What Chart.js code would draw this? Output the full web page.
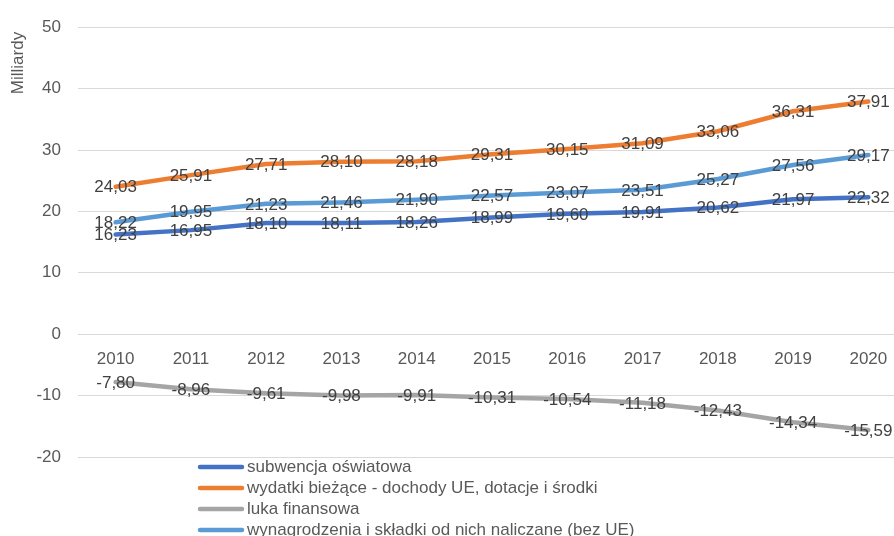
<!DOCTYPE html>
<html>
<head>
<meta charset="utf-8">
<script src="https://cdn.jsdelivr.net/npm/chart.js@4/dist/chart.umd.min.js"></script>
<style>
  html, body { margin: 0; padding: 0; background: #ffffff; overflow: hidden; }
  #wrap { width: 906px; height: 536px; }
</style>
</head>
<body>
<div id="wrap"><canvas id="chart" width="906" height="536"></canvas></div>
<script>
// Lata (oś kategorii)
const years = ['2010', '2011', '2012', '2013', '2014', '2015', '2016', '2017', '2018', '2019', '2020'];

// Serie w mld zł
const subwencja = [16.23, 16.95, 18.10, 18.11, 18.26, 18.99, 19.60, 19.91, 20.62, 21.97, 22.32];
const wydatki = [24.03, 25.91, 27.71, 28.10, 28.18, 29.31, 30.15, 31.09, 33.06, 36.31, 37.91];
const luka = [-7.80, -8.96, -9.61, -9.98, -9.91, -10.31, -10.54, -11.18, -12.43, -14.34, -15.59];
const wynagrodzenia = [18.22, 19.95, 21.23, 21.46, 21.90, 22.57, 23.07, 23.51, 25.27, 27.56, 29.17];

const seriesNames = [
  'subwencja oświatowa',
  'wydatki bieżące - dochody UE, dotacje i środki',
  'luka finansowa',
  'wynagrodzenia i składki od nich naliczane (bez UE)'
];

// Zakres osi wartości
const yMin = -20;
const yMax = 50;
const yStep = 10;
const yAxisTitle = 'Milliardy';

const FONT = '"Liberation Sans", Arial, sans-serif';
const colors = ['#4472C4', '#ED7D31', '#A5A5A5', '#5B9BD5'];
const seriesValues = [subwencja, wydatki, luka, wynagrodzenia];

const fmt = v => v.toFixed(2).replace('.', ',');

// Etykiety wartości na środku punktów
const valueLabels = {
  id: 'valueLabels',
  afterDatasetsDraw(chart) {
    const ctx = chart.ctx;
    ctx.save();
    ctx.font = '17px ' + FONT;
    ctx.fillStyle = '#404040';
    ctx.textAlign = 'center';
    ctx.textBaseline = 'middle';
    chart.data.datasets.forEach((ds, i) => {
      const meta = chart.getDatasetMeta(i);
      meta.data.forEach((pt, j) => {
        ctx.fillText(fmt(ds.data[j]), pt.x, pt.y + 1);
      });
    });
    ctx.restore();
  }
};

// Tytuł osi pionowej
const axisTitle = {
  id: 'axisTitle',
  afterDraw(chart) {
    const ctx = chart.ctx;
    ctx.save();
    ctx.font = '17px ' + FONT;
    ctx.fillStyle = '#595959';
    ctx.textAlign = 'center';
    ctx.textBaseline = 'middle';
    ctx.translate(18, 63);
    ctx.rotate(-Math.PI / 2);
    ctx.fillText(yAxisTitle, 0, 0);
    ctx.restore();
  }
};

// Legenda w kolumnie pod wykresem
const columnLegend = {
  id: 'columnLegend',
  afterDraw(chart) {
    const ctx = chart.ctx;
    ctx.save();
    ctx.font = '17px ' + FONT;
    ctx.textBaseline = 'middle';
    ctx.textAlign = 'left';
    chart.data.datasets.forEach((ds, i) => {
      const y = 467 + i * 21;
      ctx.strokeStyle = ds.borderColor;
      ctx.lineWidth = 4.5;
      ctx.lineCap = 'round';
      ctx.beginPath();
      ctx.moveTo(200, y);
      ctx.lineTo(242, y);
      ctx.stroke();
      ctx.fillStyle = '#595959';
      ctx.fillText(ds.label, 247, y);
    });
    ctx.restore();
  }
};

const datasets = seriesNames.map((name, i) => ({
  label: name,
  data: seriesValues[i],
  borderColor: colors[i],
  backgroundColor: colors[i],
  borderWidth: 4.5,
  borderJoinStyle: 'round',
  borderCapStyle: 'round',
  pointRadius: 0,
  pointHoverRadius: 0,
  tension: 0,
  fill: false,
  order: seriesNames.length - 1 - i
}));

new Chart(document.getElementById('chart'), {
  type: 'line',
  data: { labels: years, datasets },
  options: {
    responsive: false,
    animation: false,
    layout: { padding: { top: 22, bottom: 79, left: 0, right: 0 } },
    plugins: {
      legend: { display: false },
      tooltip: { enabled: false },
      title: { display: false }
    },
    scales: {
      x: {
        type: 'category',
        position: { y: 0 },
        offset: true,
        grid: { display: false, drawTicks: false },
        border: { display: false },
        ticks: {
          color: '#595959',
          font: { family: FONT, size: 17 },
          padding: 15,
          maxRotation: 0,
          autoSkip: false
        }
      },
      y: {
        min: yMin,
        max: yMax,
        grid: { color: '#D9D9D9', lineWidth: 1, drawTicks: false },
        border: { display: false },
        ticks: {
          stepSize: yStep,
          color: '#595959',
          font: { family: FONT, size: 17 },
          padding: 17
        },
        afterFit(scale) { scale.width = 78; }
      }
    }
  },
  plugins: [valueLabels, axisTitle, columnLegend]
});
</script>
</body>
</html>
